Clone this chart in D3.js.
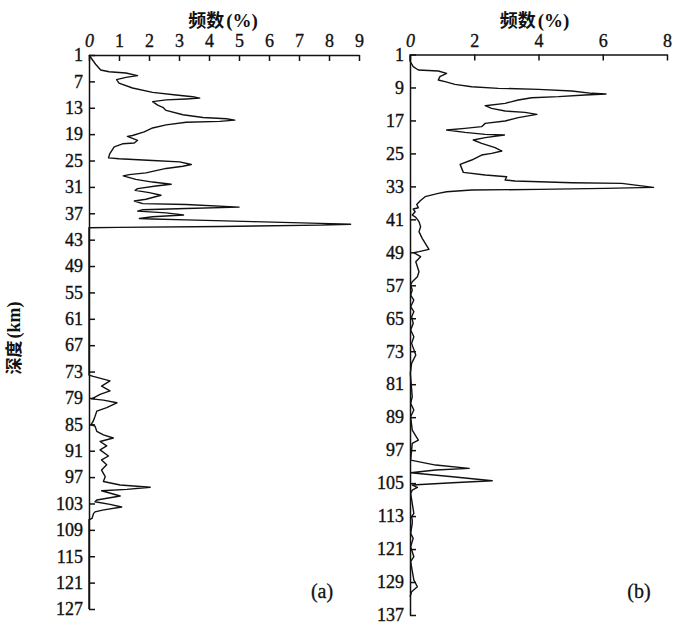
<!DOCTYPE html>
<html><head><meta charset="utf-8">
<script src="https://cdn.jsdelivr.net/npm/d3@7"></script>
<style>body{margin:0;background:#fff}</style>
</head><body>
<svg id="chart" width="700" height="639"></svg>
<script>
// ---------- data ----------
const depthA = [1,3.1,4.4,4.8,5.1,5.7,6.1,6.6,7.4,8.5,9.5,10.1,10.5,10.8,11.0,11.2,11.6,12.4,12.9,13.6,14.6,15.2,15.5,15.8,16.1,16.3,16.9,17.6,18.5,19.3,19.5,20.4,21.0,21.2,21.9,23.5,24.4,24.6,25.0,25.3,25.9,26.3,26.8,27.8,28.2,28.5,29.3,29.9,30.4,30.8,31.4,31.8,32.3,32.9,33.8,34.2,34.8,35.0,35.6,35.9,36.2,36.5,36.9,37.4,37.8,38.2,38.3,38.5,38.9,39.3,39.5,39.7,40.0,40.2,40.3,
  73.8,74.1,75.1,76.3,77.4,78.2,79.2,79.5,80.1,81.2,82.0,83.2,84.3,85.1,85.4,86.6,87.4,88.1,88.9,89.9,90.8,92.2,93.1,94.2,95.4,96.9,98.0,98.8,99.3,99.8,100.1,101.3,102.2,102.6,103.2,103.8,104.5,104.9,105.3,106.4,106.7,127];
const freqA = [0,0.22,0.39,0.67,1.23,1.62,1.23,0.92,1.0,1.45,2.12,2.9,3.46,3.69,3.24,2.57,2.12,2.29,2.46,2.57,3.13,3.8,4.58,4.86,4.36,3.24,2.57,2.12,1.84,1.45,1.28,1.62,1.51,1.12,0.84,0.69,0.65,1.0,2.12,3.02,3.41,3.13,2.57,1.9,1.34,1.14,1.56,2.12,2.74,2.23,1.62,1.54,2.01,2.4,1.9,1.51,1.79,3.24,5.0,3.24,1.79,1.62,2.57,3.15,2.12,1.68,2.12,3.24,5.47,7.71,8.72,7.71,4.36,1.0,0,
  0,0.14,0.7,0.42,0.7,0.37,0.09,0.48,0.93,0.59,0.26,0.2,0.14,0.06,0.2,0.26,0.48,0.81,0.37,0.59,0.37,0.65,0.42,0.59,0.42,0.54,0.48,1.04,2.04,1.26,0.42,1.04,0.26,0.2,0.7,1.09,0.45,0.2,0.15,0.1,0,0];

const depthB = [1,2.58,3.95,4.76,5.0,5.57,6.38,7.19,7.59,8.24,8.81,9.21,9.45,9.86,10.42,10.59,10.83,11.23,11.48,12.04,12.85,13.42,14.06,14.71,15.04,15.52,16.33,17.14,17.71,18.51,18.92,19.32,19.89,20.38,20.54,21.18,21.75,22.56,23.61,24.42,24.99,25.39,26.6,27.66,28.63,29.6,30.25,30.65,31.46,31.7,32.11,32.27,33.24,33.48,33.73,33.89,34.29,34.7,35.5,36.56,37.37,38.18,38.5,39.15,
  39.94,40.51,41.56,42.78,43.99,45.61,48.28,48.84,49.09,50.06,51.27,52.48,53.7,54.91,56.12,56.93,58.15,59.36,60.57,62.19,63.41,64.62,66.24,67.86,69.47,71.09,73.92,75.95,78.37,
  84.04,85.65,87.27,88.89,92.13,94.55,95.36,99.41,100.62,101.43,101.83,102.48,103.45,104.42,104.91,105.47,106.04,106.69,107.5,112.35,113.16,113.97,
  114.77,117.2,118.41,120.43,122.86,124.07,128.52,130.14,131.35,132.57];
const freqB = [0,0,0.10,0.26,0.88,1.14,0.93,0.88,1.09,1.40,1.92,2.75,4.0,5.04,5.66,6.1,5.45,4.62,3.79,3.37,2.96,2.34,2.54,2.96,3.58,3.95,3.37,2.96,2.34,2.23,1.71,1.14,1.71,2.34,2.94,2.34,1.97,2.23,2.65,2.86,2.54,2.23,1.92,1.56,1.61,1.66,2.34,3.01,2.96,3.27,5.04,6.59,7.58,6.07,4.0,1.92,1.14,0.88,0.47,0.31,0.21,0.26,0.10,0.16,
  0.07,0.18,0.28,0.33,0.28,0.38,0.59,0.28,0.12,0.33,0.18,0.23,0.28,0.23,0.07,0.02,0.07,0.02,0.12,0.02,0.12,0.05,0.10,0.02,0.12,0.05,0.18,0.05,0.01,
  0.07,0.02,0.12,0.02,0.07,0.26,0.07,0.02,0.8,1.84,0.8,0.02,1.32,2.56,1.32,0.07,0.23,0.07,0.02,0.12,0.05,0.07,
  0.07,0.02,0.10,0.02,0.12,0.02,0.12,0.23,0.05,0];

const xTicksA = [0,1,2,3,4,5,6,7,8,9];
const yTicksA = [1,7,13,19,25,31,37,43,49,55,61,67,73,79,85,91,97,103,109,115,121,127];
const xTicksB = [0,2,4,6,8];
const yTicksB = [1,9,17,25,33,41,49,57,65,73,81,89,97,105,113,121,129,137];
const xTitleCJK = "频数", xTitleUnit = "(%)";
const yTitleCJK = "深度", yTitleUnit = "(km)";
const panelLabels = ["(a)","(b)"];

// ---------- drawing ----------
const svg = d3.select("#chart");
const serif = "'Liberation Serif','Times New Roman',serif";
const cjk = "'Noto Sans CJK SC','Noto Sans',sans-serif";

function panel(cfg){
  const x = d3.scaleLinear().domain(cfg.xDomain).range(cfg.xRange);
  const y = d3.scaleLinear().domain(cfg.yDomain).range(cfg.yRange);
  const g = svg.append("g");

  const xa = g.append("g").attr("transform",`translate(0,${cfg.yRange[0]})`)
    .call(d3.axisTop(x).tickValues(cfg.xTicks).tickSizeInner(-6).tickSizeOuter(0).tickPadding(8).tickFormat(d3.format("d")));
  const ya = g.append("g").attr("transform",`translate(${cfg.xRange[0]},0)`)
    .call(d3.axisLeft(y).tickValues(cfg.yTicks).tickSizeInner(-6).tickSizeOuter(0).tickPadding(6).tickFormat(d3.format("d")));
  [xa,ya].forEach(a=>{
    a.selectAll("path,line").attr("stroke","#111").attr("stroke-width",1.5);
    a.selectAll("text").attr("font-family",serif).attr("font-size",18).attr("fill","#111")
      .attr("stroke","#111").attr("stroke-width",0.35);
  });
  xa.selectAll("text").filter(d=>d===0).attr("font-style","italic");

  const pts = cfg.depth.map((d,i)=>[cfg.freq[i], d]);
  g.append("path").datum(pts)
    .attr("fill","none").attr("stroke","#111").attr("stroke-width",1.4).attr("stroke-linejoin","round")
    .attr("d", d3.line().x(p=>x(p[0])).y(p=>y(p[1])).curve(d3.curveLinear));

  const t = g.append("text").attr("x",(cfg.xRange[0]+cfg.xRange[1])/2 - cfg.titleShift).attr("y",27)
    .attr("text-anchor","middle").attr("fill","#111");
  t.append("tspan").attr("font-family",cjk).attr("font-weight","bold").attr("font-size",18).text(xTitleCJK);
  t.append("tspan").attr("font-family",serif).attr("font-weight","bold").attr("font-size",19).attr("dx",2).text(xTitleUnit);

  g.append("text").attr("x",cfg.labelX).attr("y",598).attr("text-anchor","middle")
    .attr("font-family",serif).attr("font-size",20).attr("fill","#111")
    .attr("stroke","#111").attr("stroke-width",0.3).text(cfg.label);
}

panel({xDomain:[0,9], xRange:[89,359], yDomain:[1,127], yRange:[55,609],
  xTicks:xTicksA, yTicks:yTicksA, depth:depthA, freq:freqA, label:panelLabels[0], labelX:322, titleShift:1});
panel({xDomain:[0,8], xRange:[410,667], yDomain:[1,137], yRange:[54.5,615],
  xTicks:xTicksB, yTicks:yTicksB, depth:depthB, freq:freqB, label:panelLabels[1], labelX:639, titleShift:4});

const yt = svg.append("text").attr("transform","translate(20,338) rotate(-90)")
  .attr("text-anchor","middle").attr("fill","#111");
yt.append("tspan").attr("font-family",cjk).attr("font-weight","bold").attr("font-size",17).text(yTitleCJK);
yt.append("tspan").attr("font-family",serif).attr("font-weight","bold").attr("font-size",18).attr("dx",2).text(yTitleUnit);
</script>
</body></html>
